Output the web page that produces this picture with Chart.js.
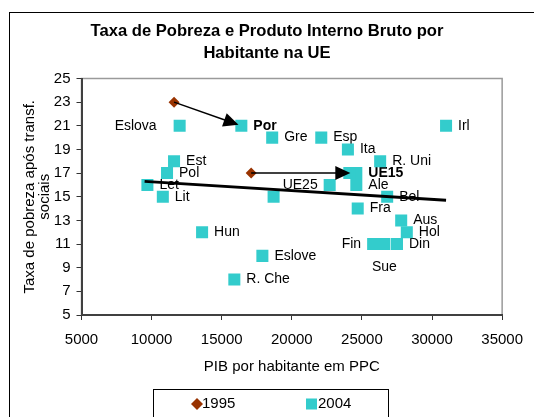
<!DOCTYPE html>
<html><head><meta charset="utf-8">
<script src="https://cdn.jsdelivr.net/npm/chart.js@4.4.1/dist/chart.umd.min.js"></script>
<style>html,body{margin:0;padding:0;background:#fff;}canvas{display:block;}</style>
</head><body>
<canvas id="c" width="534" height="417"></canvas>
<script>
// ---------- data ----------
const titleLines = ['Taxa de Pobreza e Produto Interno Bruto por', 'Habitante na UE'];
const xTitle = 'PIB por habitante em PPC';
const yTitle = ['Taxa de pobreza após transf.', 'sociais'];
const seriesNames = ['1995', '2004'];
const xMin = 5000, xMax = 35000, xStep = 5000;
const yMin = 5, yMax = 25, yStep = 2;

const names1995 = ['Por', 'UE15'];
const gdp1995 = [11600, 17100];
const pov1995 = [23, 17];

const names2004 = ['Eslova', 'Por', 'Gre', 'Esp', 'Ita', 'R. Uni', 'Irl', 'Est', 'Pol', 'Let', 'Lit',
  'UE25', 'UE15', 'Ale', 'Bel', 'Fra', 'Aus', 'Hol', 'Din', 'Fin', 'Sue', 'Hun', 'Eslove', 'R. Che', '', ''];
const gdp2004 = [12000, 16400, 18600, 22100, 24000, 26300, 31000, 11600, 11100, 9700, 10800,
  22700, 24600, 24600, 26800, 24700, 27800, 28200, 27500, 25800, 26600, 13600, 17900, 15900, 18700, 24100];
const pov2004 = [21, 21, 20, 20, 19, 18, 21, 18, 17, 16, 15,
  16, 17, 16, 15, 14, 13, 12, 11, 11, 11, 12, 10, 8, 15, 17];

const trendGdp = [9500, 31000];
const trendPov = [16.3, 14.7];

// ---------- styles ----------
const FONT = "'Liberation Sans', Arial, sans-serif";
const C1995 = '#993300', C2004 = '#33CCCC';
const labelStyle = {
  'Eslova': { side: 'left', gap: 23 },
  'UE25': { side: 'left' },
  'Fin': { side: 'left' },
  'Sue': { side: 'below' },
  'Por': { bold: true },
  'UE15': { bold: true }
};
const arrowInset = { 'Por': 3, 'UE15': 6 };

Chart.defaults.font.family = FONT;
Chart.defaults.color = '#000';

const decor = {
  id: 'decor',
  beforeDraw(chart) {
    const ctx = chart.ctx, a = chart.chartArea;
    ctx.save();
    ctx.fillStyle = '#fff'; ctx.fillRect(0, 0, chart.width, chart.height);
    ctx.strokeStyle = '#000'; ctx.lineWidth = 1;
    ctx.strokeRect(9.5, 12.5, chart.width + 20, chart.height + 20);
    ctx.fillStyle = '#000'; ctx.font = 'bold 16.6px ' + FONT;
    ctx.textAlign = 'center'; ctx.textBaseline = 'middle';
    titleLines.forEach((t, i) => ctx.fillText(t, chart.width / 2, 31 + i * 22));
    ctx.strokeStyle = '#9a9a9a'; ctx.lineWidth = 1.5;
    ctx.strokeRect(a.left, a.top, a.right - a.left, a.bottom - a.top);
    ctx.restore();
  },
  beforeDatasetsDraw(chart) {
    const ctx = chart.ctx, xs = chart.scales.x, ys = chart.scales.y;
    ctx.save();
    ctx.fillStyle = '#000'; ctx.textBaseline = 'middle';
    names2004.forEach((n, i) => {
      if (!n) return;
      const st = labelStyle[n] || {};
      const px = xs.getPixelForValue(gdp2004[i]), py = ys.getPixelForValue(pov2004[i]);
      ctx.font = (st.bold ? 'bold ' : '') + '14px ' + FONT;
      const side = st.side || 'right', gap = st.gap || 12;
      if (side === 'right') { ctx.textAlign = 'left'; ctx.fillText(n, px + gap, py); }
      else if (side === 'left') { ctx.textAlign = 'right'; ctx.fillText(n, px - gap, py); }
      else { ctx.textAlign = 'center'; ctx.fillText(n, px, py + 23); }
    });
    ctx.restore();
  },
  afterDatasetsDraw(chart) {
    const ctx = chart.ctx, xs = chart.scales.x, ys = chart.scales.y;
    ctx.save();
    ctx.strokeStyle = '#000'; ctx.fillStyle = '#000';
    names1995.forEach((n, i) => {
      const j = names2004.indexOf(n);
      if (j < 0) return;
      const x1 = xs.getPixelForValue(gdp1995[i]), y1 = ys.getPixelForValue(pov1995[i]);
      const x2 = xs.getPixelForValue(gdp2004[j]), y2 = ys.getPixelForValue(pov2004[j]);
      const ang = Math.atan2(y2 - y1, x2 - x1), c = Math.cos(ang), s = Math.sin(ang);
      const ins = arrowInset[n] || 2;
      const tx = x2 - ins * c, ty = y2 - ins * s, len = 15, hw = 7;
      const bx = tx - len * c, by = ty - len * s;
      ctx.lineWidth = 1.5;
      ctx.beginPath(); ctx.moveTo(x1, y1); ctx.lineTo(bx + 2 * c, by + 2 * s); ctx.stroke();
      ctx.beginPath(); ctx.moveTo(tx, ty);
      ctx.lineTo(bx - hw * s, by + hw * c); ctx.lineTo(bx + hw * s, by - hw * c);
      ctx.closePath(); ctx.fill();
    });
    ctx.restore();
  },
  afterDraw(chart) {
    const ctx = chart.ctx;
    ctx.save();
    ctx.strokeStyle = '#000'; ctx.lineWidth = 1;
    ctx.strokeRect(153.5, 389.5, 235, 40);
    const dx = 197, dy = 404, r = 6;
    ctx.fillStyle = C1995;
    ctx.beginPath(); ctx.moveTo(dx - r, dy); ctx.lineTo(dx, dy - r); ctx.lineTo(dx + r, dy); ctx.lineTo(dx, dy + r); ctx.closePath(); ctx.fill();
    ctx.fillStyle = C2004; ctx.fillRect(306, 398.5, 11, 11);
    ctx.fillStyle = '#000'; ctx.font = '15px ' + FONT; ctx.textAlign = 'left'; ctx.textBaseline = 'middle';
    ctx.fillText(seriesNames[0], 202, dy);
    ctx.fillText(seriesNames[1], 318, dy);
    ctx.restore();
  }
};

new Chart(document.getElementById('c'), {
  type: 'scatter',
  data: {
    datasets: [
      {
        type: 'line', label: 'trend',
        data: trendGdp.map((x, i) => ({ x, y: trendPov[i] })),
        borderColor: '#000', borderWidth: 3, pointRadius: 0, fill: false, order: 0
      },
      {
        label: seriesNames[0],
        data: gdp1995.map((x, i) => ({ x, y: pov1995[i] })),
        pointStyle: 'rectRot', pointRadius: 5.5, backgroundColor: C1995, borderColor: C1995, borderWidth: 0, order: 1
      },
      {
        label: seriesNames[1],
        data: gdp2004.map((x, i) => ({ x, y: pov2004[i] })),
        pointStyle: 'rect', pointRadius: 8.5, backgroundColor: C2004, borderColor: C2004, borderWidth: 0, order: 2
      }
    ]
  },
  options: {
    responsive: false, animation: false, devicePixelRatio: 1,
    layout: { padding: { left: 9, top: 78.5, right: 20, bottom: 42 } },
    plugins: { legend: { display: false }, tooltip: { enabled: false }, title: { display: false } },
    scales: {
      x: {
        type: 'linear', min: xMin, max: xMax,
        ticks: { stepSize: xStep, font: { size: 15 }, color: '#000', padding: 11, maxRotation: 0, callback: v => String(v) },
        grid: { drawOnChartArea: false, drawTicks: true, tickLength: 5, tickColor: '#333' },
        border: { color: '#404040', width: 2 },
        title: { display: true, text: xTitle, font: { size: 15, lineHeight: 1 }, color: '#000', padding: { top: 0, bottom: 1 } },
        afterFit(s) { s.height = 60; }
      },
      y: {
        type: 'linear', min: yMin, max: yMax,
        ticks: { stepSize: yStep, font: { size: 15 }, color: '#000', padding: 6 },
        grid: { drawOnChartArea: false, drawTicks: true, tickLength: 5, tickColor: '#333' },
        border: { color: '#404040', width: 2 },
        title: { display: true, text: yTitle, font: { size: 15, lineHeight: 1 }, color: '#000', padding: { top: 13.5, bottom: 0 } },
        afterFit(s) { s.width = 72.5; }
      }
    }
  },
  plugins: [decor]
});
</script>
</body></html>
